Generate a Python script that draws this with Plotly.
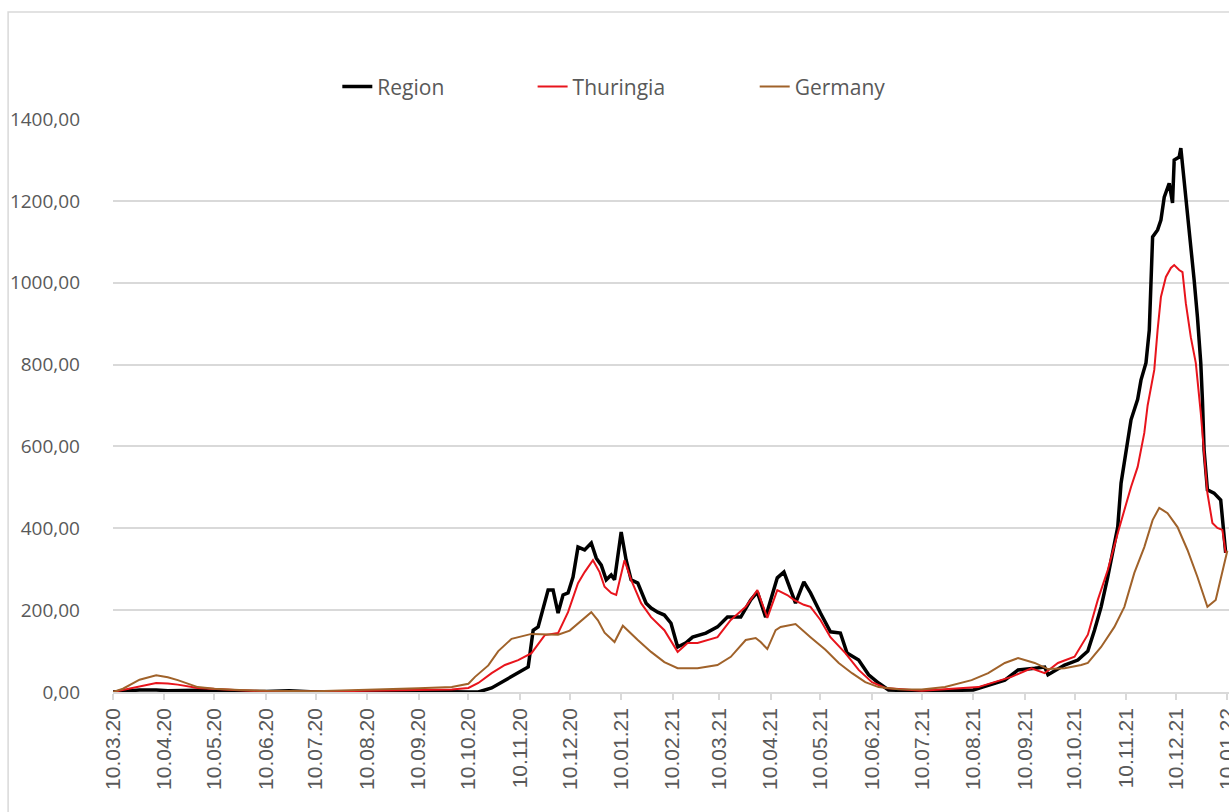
import plotly.graph_objects as go

# 7-day incidence values
region_dates = ["2020-03-10", "2020-03-16", "2020-03-26", "2020-04-05", "2020-04-12", "2020-04-30",
                "2020-05-10", "2020-06-10", "2020-06-24", "2020-07-10", "2020-08-10", "2020-09-10",
                "2020-10-10", "2020-10-16", "2020-10-24", "2020-11-01", "2020-11-09", "2020-11-15",
                "2020-11-18", "2020-11-21", "2020-11-27", "2020-11-30", "2020-12-03", "2020-12-06",
                "2020-12-09", "2020-12-12", "2020-12-15", "2020-12-19", "2020-12-23", "2020-12-26",
                "2020-12-29", "2021-01-01", "2021-01-04", "2021-01-06", "2021-01-10", "2021-01-13",
                "2021-01-16", "2021-01-20", "2021-01-25", "2021-01-28", "2021-02-01", "2021-02-05",
                "2021-02-09", "2021-02-13", "2021-02-18", "2021-02-22", "2021-03-02", "2021-03-09",
                "2021-03-15", "2021-03-23", "2021-03-29", "2021-04-02", "2021-04-07", "2021-04-14",
                "2021-04-18", "2021-04-22", "2021-04-25", "2021-04-30", "2021-05-04", "2021-05-10",
                "2021-05-16", "2021-05-22", "2021-05-26", "2021-06-02", "2021-06-08", "2021-06-14",
                "2021-06-20", "2021-07-10", "2021-08-10", "2021-08-29", "2021-09-06", "2021-09-16",
                "2021-09-22", "2021-09-24", "2021-10-04", "2021-10-12", "2021-10-18", "2021-10-22",
                "2021-10-26", "2021-10-30", "2021-11-05", "2021-11-07", "2021-11-13", "2021-11-17",
                "2021-11-19", "2021-11-22", "2021-11-24", "2021-11-26", "2021-11-29", "2021-12-01",
                "2021-12-03", "2021-12-06", "2021-12-08", "2021-12-09", "2021-12-12", "2021-12-13",
                "2021-12-15", "2021-12-17", "2021-12-19", "2021-12-21", "2021-12-23", "2021-12-25",
                "2021-12-26", "2021-12-27", "2021-12-29", "2022-01-02", "2022-01-06", "2022-01-09"]
region_vals = [0, 2, 5, 5, 3, 4,
               2, 1, 3, 0, 1, 2,
               0, 0, 10, 29, 46, 61,
               151, 159, 249, 249, 193, 237,
               242, 281, 354, 347, 364, 327,
               310, 274, 286, 274, 391, 322,
               274, 266, 217, 205, 195, 188,
               168, 110, 120, 134, 144, 159,
               183, 183, 225, 244, 183, 279,
               293, 249, 217, 269, 242, 193,
               147, 144, 95, 78, 42, 22,
               5, 2, 5, 29, 54, 58,
               61, 42, 66, 78, 100, 151,
               208, 281, 403, 510, 665, 715,
               762, 804, 884, 1112, 1129, 1153,
               1209, 1243, 1195, 1300, 1307, 1329,
               1251, 1170, 1087, 1007, 916, 804,
               713, 591, 494, 486, 469, 340]

thuringia_dates = ["2020-03-10", "2020-03-16", "2020-03-26", "2020-04-05", "2020-04-12", "2020-04-18",
                   "2020-04-30", "2020-05-10", "2020-05-25", "2020-06-10", "2020-07-10", "2020-08-10",
                   "2020-09-10", "2020-09-30", "2020-10-10", "2020-10-16", "2020-10-24", "2020-11-01",
                   "2020-11-09", "2020-11-17", "2020-11-25", "2020-12-03", "2020-12-09", "2020-12-15",
                   "2020-12-19", "2020-12-24", "2020-12-28", "2020-12-31", "2021-01-04", "2021-01-07",
                   "2021-01-12", "2021-01-16", "2021-01-22", "2021-01-28", "2021-02-05", "2021-02-13",
                   "2021-02-19", "2021-02-25", "2021-03-09", "2021-03-17", "2021-03-26", "2021-04-02",
                   "2021-04-08", "2021-04-14", "2021-04-20", "2021-04-24", "2021-04-30", "2021-05-04",
                   "2021-05-10", "2021-05-16", "2021-05-25", "2021-06-02", "2021-06-10", "2021-06-18",
                   "2021-07-10", "2021-08-13", "2021-09-02", "2021-09-14", "2021-09-22", "2021-09-30",
                   "2021-10-10", "2021-10-18", "2021-10-24", "2021-10-30", "2021-11-05", "2021-11-13",
                   "2021-11-17", "2021-11-21", "2021-11-23", "2021-11-27", "2021-11-29", "2021-12-01",
                   "2021-12-04", "2021-12-07", "2021-12-09", "2021-12-12", "2021-12-14", "2021-12-16",
                   "2021-12-19", "2021-12-22", "2021-12-25", "2021-12-27", "2021-12-29", "2022-01-01",
                   "2022-01-04", "2022-01-07", "2022-01-09"]
thuringia_vals = [0, 5, 15, 22, 21, 18,
                  10, 7, 4, 2, 1, 3,
                  5, 6, 10, 22, 46, 66,
                  78, 95, 139, 144, 195, 266,
                  293, 322, 293, 257, 242, 237,
                  322, 274, 217, 183, 151, 98,
                  120, 120, 134, 176, 208, 249,
                  181, 249, 237, 225, 213, 208,
                  176, 134, 95, 54, 24, 10,
                  3, 12, 37, 58, 46, 71,
                  86, 140, 225, 298, 388, 501,
                  550, 633, 700, 787, 884, 965,
                  1014, 1036, 1043, 1031, 1026, 950,
                  867, 804, 682, 591, 486, 413,
                  401, 396, 340]

germany_dates = ["2020-03-10", "2020-03-16", "2020-03-26", "2020-04-05", "2020-04-12", "2020-04-18",
                 "2020-04-30", "2020-05-10", "2020-05-25", "2020-06-10", "2020-07-10", "2020-08-10",
                 "2020-08-29", "2020-09-10", "2020-09-30", "2020-10-10", "2020-10-14", "2020-10-22",
                 "2020-10-28", "2020-11-05", "2020-11-17", "2020-12-03", "2020-12-10", "2020-12-15",
                 "2020-12-23", "2020-12-27", "2020-12-31", "2021-01-06", "2021-01-11", "2021-01-20",
                 "2021-01-28", "2021-02-05", "2021-02-13", "2021-02-25", "2021-03-09", "2021-03-17",
                 "2021-03-26", "2021-04-01", "2021-04-04", "2021-04-08", "2021-04-13", "2021-04-16",
                 "2021-04-25", "2021-05-04", "2021-05-13", "2021-05-21", "2021-05-29", "2021-06-06",
                 "2021-06-14", "2021-06-26", "2021-07-10", "2021-07-24", "2021-08-09", "2021-08-19",
                 "2021-08-29", "2021-09-06", "2021-09-16", "2021-09-24", "2021-10-04", "2021-10-14",
                 "2021-10-18", "2021-10-26", "2021-11-03", "2021-11-09", "2021-11-15", "2021-11-21",
                 "2021-11-26", "2021-11-30", "2021-12-05", "2021-12-11", "2021-12-17", "2021-12-23",
                 "2021-12-29", "2022-01-03", "2022-01-07", "2022-01-10"]
germany_vals = [0, 8, 30, 41, 36, 29,
                12, 8, 5, 3, 2, 5,
                8, 9, 12, 20, 37, 65,
                100, 130, 142, 140, 150, 168,
                195, 175, 145, 122, 162, 127,
                98, 73, 58, 58, 66, 86,
                127, 132, 122, 105, 151, 159,
                166, 134, 103, 71, 46, 24,
                12, 7, 6, 12, 29, 46,
                71, 83, 71, 56, 58, 66,
                71, 110, 159, 208, 291, 354,
                420, 450, 437, 403, 347, 281,
                208, 225, 291, 345]

grey = "#595959"
gridgrey = "#d9d9d9"

fig = go.Figure()

fig.add_trace(go.Scatter(x=region_dates, y=region_vals, name="Region", mode="lines",
                         line=dict(color="#000000", width=3.5), legend="legend"))
fig.add_trace(go.Scatter(x=thuringia_dates, y=thuringia_vals, name="Thuringia", mode="lines",
                         line=dict(color="#e8141c", width=2), legend="legend2"))
fig.add_trace(go.Scatter(x=germany_dates, y=germany_vals, name="Germany", mode="lines",
                         line=dict(color="#a0622a", width=2), legend="legend3"))

legend_font = dict(family="Open Sans", size=21, color=grey)
fig.update_layout(
    width=1229, height=812,
    margin=dict(l=113, r=0, t=119, b=120),
    paper_bgcolor="white", plot_bgcolor="white",
    separators=",.",
    showlegend=True,
    legend=dict(x=0.201, y=1.056, xanchor="left", yanchor="middle", font=legend_font, bgcolor="rgba(0,0,0,0)"),
    legend2=dict(x=0.376, y=1.056, xanchor="left", yanchor="middle", font=legend_font, bgcolor="rgba(0,0,0,0)"),
    legend3=dict(x=0.575, y=1.056, xanchor="left", yanchor="middle", font=legend_font, bgcolor="rgba(0,0,0,0)"),
    # chart area border like in Excel
    shapes=[dict(type="rect", xref="paper", yref="paper", x0=-0.094, x1=1.2, y0=-0.6, y1=1.1867,
                 line=dict(color=gridgrey, width=1.5), layer="below")],
)

fig.update_xaxes(
    type="date", range=["2020-03-10", "2022-01-11"],
    tick0="2020-03-10", dtick="M1", tickformat="%d.%m.%y", tickangle=-90,
    tickfont=dict(family="Liberation Sans", size=21, color=grey),
    ticklabeloverflow="allow", automargin=False,
    ticks="outside", ticklen=6, tickcolor=gridgrey, tickwidth=1.5,
    showline=True, linecolor=gridgrey, linewidth=1.5,
    showgrid=False, zeroline=False,
)
fig.update_yaxes(
    range=[0, 1400], dtick=200, tickformat=".2f",
    tickfont=dict(family="Open Sans", size=19, color=grey),
    showgrid=True, gridcolor=gridgrey, gridwidth=1.5,
    zeroline=False, showline=False, ticklabelstandoff=32, automargin=False,
)

# drop the default page margin so the figure fills the window exactly
fig.write_html("out.html", config={"displayModeBar": False},
               post_script="document.body.style.margin='0';document.body.style.overflow='hidden';")
